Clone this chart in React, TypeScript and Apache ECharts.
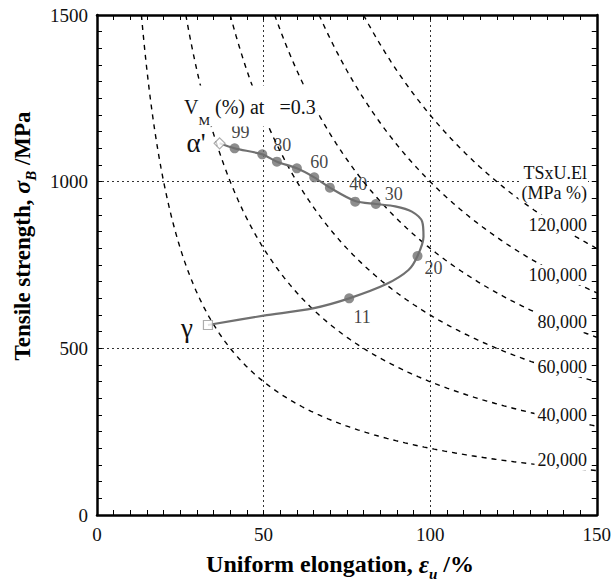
import React, { useEffect, useRef } from 'react';
import * as echarts from 'echarts';

// ---------- data ----------
const X_MIN = 0;
const X_MAX = 150;
const Y_MIN = 0;
const Y_MAX = 1500;

// iso-lines of TS x U.El (MPa %)
const isoProducts = [20000, 40000, 60000, 80000, 100000, 120000];
const isoLabels = ['20,000', '40,000', '60,000', '80,000', '100,000', '120,000'];

// traced path of the property curve from gamma to alpha'
const curveX = [33.3, 50, 64.8, 75.7, 86.7, 93.5, 96.2, 98.0, 97.6, 94.5, 89.5, 83.7, 77.5, 69.9, 65.2, 60, 54, 49.6, 41.3, 36.8];
const curveY = [570, 598, 620, 650, 692, 735, 777, 835, 880, 910, 926, 933, 942, 982, 1013, 1040, 1060, 1082, 1100, 1115];

// measured points (filled markers) and their V_M labels
const markX = [75.7, 96.2, 83.7, 77.5, 69.9, 65.2, 60, 54, 49.6, 41.3];
const markY = [650, 777, 933, 940, 982, 1013, 1040, 1060, 1082, 1100];
const markLabels = ['11', '20', '30', '40', '', '60', '', '', '80', '99'];

// end members
const alphaPoint = [36.8, 1115];
const gammaPoint = [33.3, 570];

const FONT = 'Liberation Serif';

export default function App() {
  const ref = useRef<HTMLDivElement>(null);

  useEffect(() => {
    if (!ref.current) return;
    const chart = echarts.init(ref.current, null, { renderer: 'svg' });

    const isoSeries = isoProducts.map((c) => {
      const x0 = c / Y_MAX;
      const pts: number[][] = [];
      const n = 160;
      for (let i = 0; i <= n; i++) {
        const x = x0 * Math.pow(X_MAX / x0, i / n);
        pts.push([x, c / x]);
      }
      return {
        type: 'line',
        data: pts,
        symbol: 'none',
        showSymbol: false,
        silent: true,
        z: 1,
        lineStyle: { color: '#000', width: 1.4, type: [5, 5] },
      };
    });

    // label offsets (pixels) for marker annotations, same order as markLabels
    const labelOffsets = [
      [13, 19], [16, 12], [18, -10], [3, -18], [0, 0], [5, -15], [0, 0], [0, 0], [20, -9], [6, -16],
    ];

    const axisCommon = {
      type: 'value',
      axisLine: { show: true, onZero: false, lineStyle: { color: '#000', width: 2.5 } },
      axisTick: { show: true, inside: true, length: 5, lineStyle: { color: '#000', width: 1 } },
      minorTick: { show: true, splitNumber: 10, length: 5, lineStyle: { color: '#000', width: 1 } },
      minorSplitLine: { show: false },
    };

    const rightLabels = [
      { t: 'TSxU.El', y: 173 },
      { t: '(MPa %)', y: 193 },
      { t: isoLabels[5], y: 225 },
      { t: isoLabels[4], y: 275 },
      { t: isoLabels[3], y: 322 },
      { t: isoLabels[2], y: 367 },
      { t: isoLabels[1], y: 415 },
      { t: isoLabels[0], y: 460 },
    ];

    const option: any = {
      animation: false,
      backgroundColor: '#fff',
      grid: { left: 97, right: 16, top: 15, bottom: 68, containLabel: false },
      xAxis: [
        {
          ...axisCommon,
          position: 'bottom',
          min: X_MIN,
          max: X_MAX,
          interval: 50,
          axisLabel: {
            fontFamily: FONT,
            fontSize: 19,
            color: '#111',
            margin: 10,
            formatter: (v: number) => String(v),
          },
          splitLine: { show: true, lineStyle: { color: '#333', width: 1, type: [2, 3] } },
        },
        {
          ...axisCommon,
          position: 'top',
          min: X_MIN,
          max: X_MAX,
          interval: 50,
          axisLabel: { show: false },
          splitLine: { show: false },
        },
      ],
      yAxis: [
        {
          ...axisCommon,
          position: 'left',
          min: Y_MIN,
          max: Y_MAX,
          interval: 500,
          axisLabel: {
            fontFamily: FONT,
            fontSize: 19,
            color: '#111',
            margin: 9,
            formatter: (v: number) => String(v),
          },
          splitLine: { show: true, lineStyle: { color: '#333', width: 1, type: [2, 3] } },
        },
        {
          ...axisCommon,
          position: 'right',
          min: Y_MIN,
          max: Y_MAX,
          interval: 500,
          axisLabel: { show: false },
          splitLine: { show: false },
        },
      ],
      series: [
        ...isoSeries,
        {
          type: 'line',
          data: curveX.map((x, i) => [x, curveY[i]]),
          smooth: 0.3,
          symbol: 'none',
          showSymbol: false,
          silent: true,
          z: 3,
          lineStyle: { color: '#707070', width: 2.2 },
        },
        {
          type: 'scatter',
          data: markX.map((x, i) => ({
            value: [x, markY[i]],
            label: {
              show: markLabels[i] !== '',
              formatter: markLabels[i],
              position: 'inside',
              offset: labelOffsets[i],
              fontFamily: FONT,
              fontSize: 18,
              color: '#111',
            },
          })),
          symbol: 'circle',
          symbolSize: 10,
          silent: true,
          z: 4,
          itemStyle: { color: '#707070' },
        },
        {
          type: 'scatter',
          data: [alphaPoint],
          symbol: 'diamond',
          symbolSize: 11,
          silent: true,
          z: 4,
          itemStyle: { color: '#fff', borderColor: '#999', borderWidth: 1.2 },
        },
        {
          type: 'scatter',
          data: [gammaPoint],
          symbol: 'rect',
          symbolSize: 9,
          silent: true,
          z: 4,
          itemStyle: { color: '#fff', borderColor: '#999', borderWidth: 1.2 },
        },
      ],
      graphic: [
        // V_M label
        {
          type: 'text',
          x: 182,
          y: 106,
          z: 100,
          style: {
            text: '{v|V}{m|M}{v| (%) at   =0.3}',
            align: 'left',
            verticalAlign: 'middle',
            backgroundColor: '#fff',
            padding: [2, 2, 0, 2],
            rich: {
              v: { fontFamily: FONT, fontSize: 20, fill: '#111' },
              m: { fontFamily: FONT, fontSize: 13, fill: '#111', padding: [26, 0, 0, 0] },
            },
          },
        },
        // alpha'
        {
          type: 'text',
          x: 196,
          y: 143,
          z: 100,
          style: {
            text: "α'",
            fontFamily: FONT,
            fontSize: 27,
            fill: '#111',
            align: 'center',
            verticalAlign: 'middle',
            backgroundColor: '#fff',
            padding: [0, 1, 0, 1],
          },
        },
        // gamma
        {
          type: 'text',
          x: 187,
          y: 328,
          z: 100,
          style: {
            text: 'γ',
            fontFamily: FONT,
            fontSize: 27,
            fill: '#111',
            align: 'center',
            verticalAlign: 'middle',
          },
        },
        ...rightLabels.map((r) => ({
          type: 'text',
          x: 588,
          y: r.y,
          z: 100,
          style: {
            text: r.t,
            fontFamily: FONT,
            fontSize: 18,
            fill: '#111',
            align: 'right',
            verticalAlign: 'middle',
            backgroundColor: '#fff',
            padding: [1, 1, 1, 3],
          },
        })),
        // x axis title
        {
          type: 'text',
          x: 340,
          y: 564,
          z: 100,
          style: {
            text: '{t|Uniform elongation, }{e|ε}{s|u}{t| /%}',
            align: 'center',
            verticalAlign: 'middle',
            rich: {
              t: { fontFamily: FONT, fontWeight: 'bold', fontSize: 24, fill: '#000' },
              e: { fontFamily: FONT, fontWeight: 'bold', fontStyle: 'italic', fontSize: 25, fill: '#000' },
              s: { fontFamily: FONT, fontWeight: 'bold', fontStyle: 'italic', fontSize: 15, fill: '#000', padding: [20, 0, 0, 0] },
            },
          },
        },
        // y axis title
        {
          type: 'text',
          x: 22,
          y: 236,
          z: 100,
          rotation: Math.PI / 2,
          style: {
            text: '{t|Tensile strength, }{e|σ}{s|B}{t| /MPa}',
            align: 'center',
            verticalAlign: 'middle',
            rich: {
              t: { fontFamily: FONT, fontWeight: 'bold', fontSize: 23, fill: '#000' },
              e: { fontFamily: FONT, fontWeight: 'bold', fontStyle: 'italic', fontSize: 24, fill: '#000' },
              s: { fontFamily: FONT, fontWeight: 'bold', fontStyle: 'italic', fontSize: 15, fill: '#000', padding: [18, 0, 0, 0] },
            },
          },
        },
      ],
    };

    chart.setOption(option);
    return () => chart.dispose();
  }, []);

  return (
    <div
      ref={ref}
      style={{ position: 'fixed', left: 0, top: 0, width: 614, height: 583, background: '#fff' }}
    />
  );
}
